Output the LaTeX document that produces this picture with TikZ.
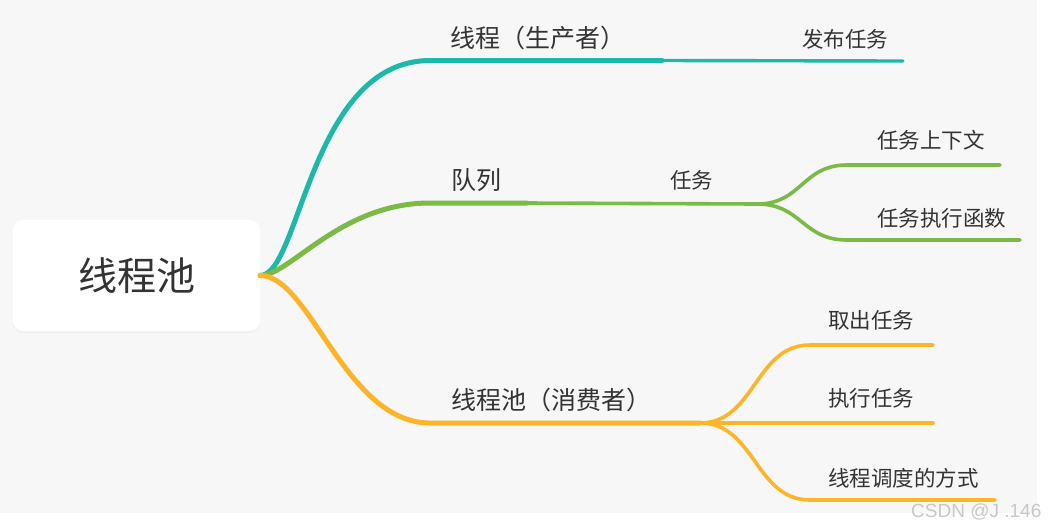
\documentclass[tikz,border=0pt]{standalone}
\usepackage{fontspec}
\newfontfamily\cjk{Noto Sans CJK SC}
\setsansfont{Liberation Sans}
\usetikzlibrary{positioning, shadows}
\definecolor{bggray}{RGB}{247,247,247}
\definecolor{textgray}{RGB}{51,51,51}
\definecolor{tealline}{RGB}{30,184,168}
\definecolor{greenline}{RGB}{124,186,72}
\definecolor{orangeline}{RGB}{252,180,40}
\definecolor{markgray}{RGB}{200,200,200}

\begin{document}
\begin{tikzpicture}[x=1pt, y=-1pt,
				rootbox/.style={rectangle, rounded corners=10pt, fill=white,
					minimum width=247pt, minimum height=111pt, text=textgray,
					font=\cjk\fontsize{39}{39}\selectfont,
					drop shadow={shadow xshift=0pt, shadow yshift=-2pt, opacity=0.05}},
				topic/.style={anchor=west, inner sep=0pt, text=textgray, font=\cjk\fontsize{25}{25}\selectfont},
				subtopic/.style={anchor=west, inner sep=0pt, text=textgray, font=\cjk\fontsize{21.5}{21.5}\selectfont},
				thickline/.style={line width=5pt, line cap=round},
				thinline/.style={line width=3.6pt, line cap=round}
				]
				\useasboundingbox (0,0) rectangle (1050,531);
				\fill[white] (0,0) rectangle (1050,531);
				\fill[bggray] (0,0) rectangle (1037,513);

				\node[rootbox] (root) at (136.5,275.5) {线程池};

				\coordinate (prodbend) at (430,60.5);
				\coordinate (prodmid) at (662,60.5);
				\coordinate (prodend) at (903,61);
				\coordinate (queuebend) at (430,203);
				\coordinate (queuemid) at (527,203);
				\coordinate (tasksplit) at (757,204);
				\coordinate (ctxbend) at (847,165);
				\coordinate (ctxend) at (1000,165);
				\coordinate (fnbend) at (847,240);
				\coordinate (fnend) at (1020,240);
				\coordinate (consbend) at (430,423);
				\coordinate (conssplit) at (700,423);
				\coordinate (fetchbend) at (810,345);
				\coordinate (fetchend) at (933,345);
				\coordinate (runend) at (933,423);
				\coordinate (schedbend) at (810,500);
				\coordinate (schedend) at (995,500);

				\draw[thickline, tealline] (root.east) .. controls +(40,0) and +(-120,0) .. (prodbend) -- (prodmid);
				\draw[thinline, tealline, line width=3.4pt] (prodmid) -- (prodend);

				\draw[thickline, greenline] (root.east) .. controls +(30,0) and +(-90,0) .. (queuebend) -- (queuemid);
				\draw[thinline, greenline] (queuemid) -- (tasksplit);
				\draw[thinline, greenline] (tasksplit) .. controls +(45,0) and +(-45,0) .. (ctxbend) -- (ctxend);
				\draw[thinline, greenline] (tasksplit) .. controls +(45,0) and +(-45,0) .. (fnbend) -- (fnend);

				\draw[thickline, orangeline] (root.east) .. controls +(50,0) and +(-85,0) .. (consbend) -- (conssplit);
				\draw[thinline, orangeline] (conssplit) .. controls +(55,0) and +(-55,0) .. (fetchbend) -- (fetchend);
				\draw[thinline, orangeline] (conssplit) -- (runend);
				\draw[thinline, orangeline] (conssplit) .. controls +(55,0) and +(-55,0) .. (schedbend) -- (schedend);

				\node[topic] (producer) at (450,38) {线程（生产者）};
				\node[subtopic] (publish) at (802,39) {发布任务};
				\node[topic] (queue) at (451,180) {队列};
				\node[subtopic] (task) at (670,180) {任务};
				\node[subtopic] (taskctx) at (877,140) {任务上下文};
				\node[subtopic] (taskfn) at (877,218) {任务执行函数};
				\node[topic] (consumer) at (451,400) {线程池（消费者）};
				\node[subtopic] (fetch) at (828,320) {取出任务};
				\node[subtopic] (run) at (828,398) {执行任务};
				\node[subtopic] (sched) at (828,478) {线程调度的方式};

				\node[anchor=west, inner sep=0pt, text=markgray, font=\sffamily\fontsize{19}{19}\selectfont] (mark) at (911,511.5) {CSDN @J .146};
			\end{tikzpicture}
\end{document}
